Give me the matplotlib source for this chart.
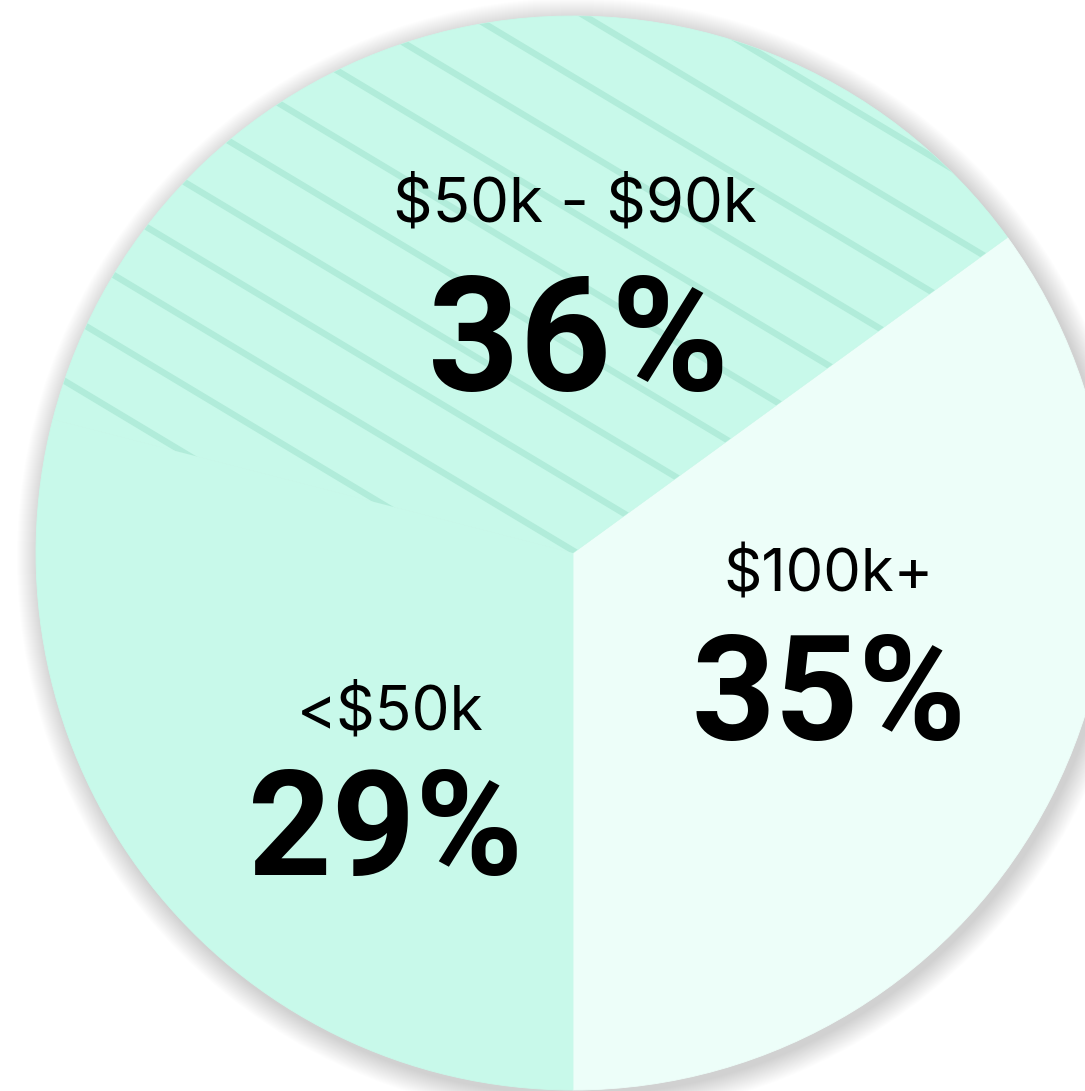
import matplotlib
matplotlib.use('Agg')
from matplotlib import pyplot as plt
from matplotlib.patches import Circle
import numpy as np

plt.rcParams['font.family'] = ['Inter', 'DejaVu Sans']

# data
labels = ['$100k+', '$50k - $90k', '<$50k']
shares = [35, 36, 29]

# style
colors = ['#edfef9', '#c8f9ea', '#c8f9ea']
hatch_color = '#b1ecda'
W, H = 1085, 1091
cx, cy, R = 573, H - 553, 537

fig = plt.figure(figsize=(W / 100, H / 100), dpi=100)
ax = fig.add_axes([0, 0, 1, 1])

# soft shadow round the disc
for i in range(1, 24):
    ax.add_patch(Circle((cx + 4, cy - 5), R + i, color='black', alpha=0.006,
                        lw=0, zorder=0))

wedges, _ = ax.pie(shares, colors=colors, startangle=-90, counterclock=True,
                   center=(cx, cy), radius=R,
                   wedgeprops=dict(linewidth=0.6, zorder=1))
for w, c in zip(wedges, colors):
    w.set_edgecolor(c)

# diagonal stripe texture on the middle band
hatched = wedges[1]
xs = np.array([0, W])
step = 67.7
for k in range(-14, 15):
    ys = cy - 0.6 * (xs - 577) + k * step
    ln, = ax.plot(xs, ys, color=hatch_color, lw=4.6, zorder=2,
                  solid_capstyle='butt')
    ln.set_clip_path(hatched)

# labels
name_pos = [(828.5, H - 592), (574.5, H - 222), (390.5, H - 730)]
pct_pos = [(829, H - 740), (578.5, H - 390), (385.5, H - 875)]
pct_size = [105, 115, 105]
name_size = [43, 44.5, 43.5]
for i in range(len(labels)):
    ax.text(*name_pos[i], labels[i], ha='center', va='baseline',
            fontsize=name_size[i], color='black', zorder=5, parse_math=False)
    ax.text(*pct_pos[i], f'{shares[i]}%', ha='center', va='baseline',
            fontsize=pct_size[i], fontweight='bold', color='black', zorder=5,
            family='Roboto', parse_math=False)

ax.set_xlim(0, W)
ax.set_ylim(0, H)
ax.set_aspect('equal')
ax.axis('off')

plt.savefig('out.png', dpi=100)
